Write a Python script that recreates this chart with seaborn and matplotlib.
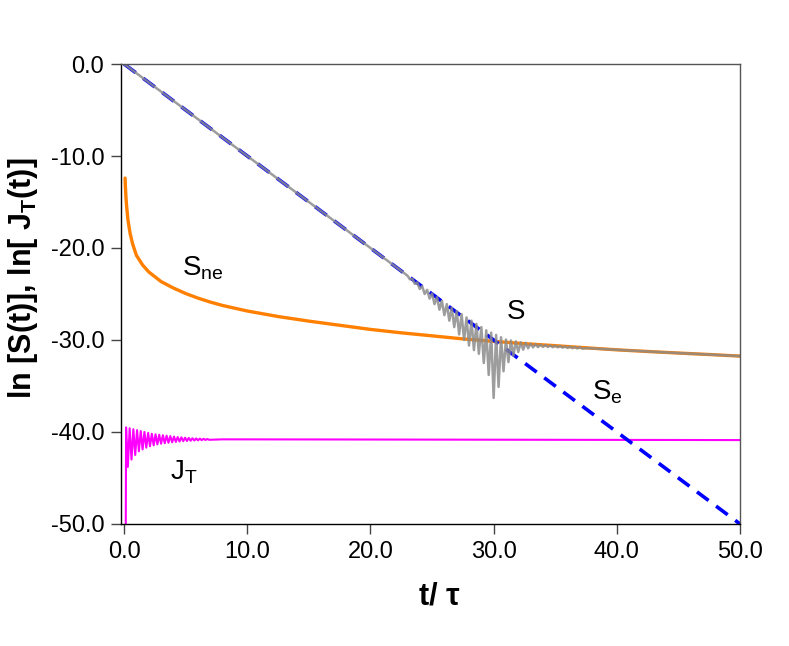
import numpy as np
import pandas as pd
import matplotlib
matplotlib.use("Agg")
import matplotlib.pyplot as plt
import seaborn as sns

# values
se_t = [0.0, 50.0]
se_val = [0.0, -50.0]

sne_t = [0.08, 0.1, 0.15, 0.2, 0.3, 0.4, 0.5, 0.7, 1.0, 1.5, 2.0, 3.0, 4.0, 5.0,
         6.0, 7.0, 8.0, 10.0, 12.5, 15.0, 17.5, 20.0, 22.5, 25.0, 27.5, 30.0,
         32.5, 35.0, 37.5, 40.0, 42.5, 45.0, 47.5, 50.0]
sne_val = [-12.4, -13.2, -14.5, -15.4, -16.8, -17.7, -18.5, -19.6, -20.8, -21.85,
           -22.6, -23.65, -24.35, -24.95, -25.45, -25.88, -26.25, -26.85, -27.45,
           -27.95, -28.4, -28.85, -29.22, -29.55, -29.88, -30.15, -30.4, -30.62,
           -30.85, -31.07, -31.25, -31.42, -31.58, -31.75]

# S: straight part, then oscillation peaks/troughs, then riding on S_ne
s_t = [0.0, 23.0,
       23.2, 23.4, 23.6, 23.8, 24.0, 24.2, 24.4, 24.6, 24.8, 25.0,
       25.2, 25.4, 25.6, 25.8, 26.0, 26.2, 26.4, 26.6, 26.8, 27.0,
       27.2, 27.4, 27.6, 27.8, 28.0, 28.2, 28.4, 28.6, 28.8, 29.0,
       29.2, 29.4, 29.6, 29.8, 30.0, 30.2, 30.4, 30.6, 30.8, 31.0,
       31.2, 31.4, 31.6, 31.8, 32.0, 32.2, 32.4, 32.6, 32.8, 33.0,
       33.2, 33.4, 33.6, 33.8, 34.0, 34.2, 34.4, 34.6, 34.8, 35.0,
       35.2, 35.4, 35.6, 35.8, 36.0, 36.2, 36.4, 36.6, 36.8, 37.0,
       37.2, 37.6, 40.0, 42.5, 45.0, 47.5, 50.0]
s_val = [0.0, -23.0,
         -23.4, -23.35, -23.9, -23.75, -24.45, -24.15, -25.0, -24.55, -25.5, -24.95,
         -26.1, -25.35, -26.7, -25.75, -27.3, -26.1, -27.9, -26.5, -28.6, -26.85,
         -29.4, -27.2, -30.0, -27.55, -30.6, -27.9, -31.1, -28.25, -31.5, -28.6,
         -32.5, -28.95, -33.8, -29.2, -36.3, -29.45, -35.1, -29.7, -33.4, -29.95,
         -32.4, -30.05, -31.7, -30.15, -31.3, -30.25, -31.05, -30.3, -30.9, -30.4,
         -30.8, -30.45, -30.78, -30.5, -30.75, -30.55, -30.76, -30.6, -30.78, -30.62,
         -30.8, -30.65, -30.83, -30.7, -30.86, -30.72, -30.89, -30.75, -30.92, -30.78,
         -30.94, -30.88, -31.07, -31.25, -31.42, -31.58, -31.75]

# J_T: drop from below the axis, damped ringing, then flat
jt_t = [0.13, 0.16, 0.30, 0.45, 0.60, 0.75, 0.90, 1.05, 1.20, 1.35, 1.50, 1.65,
        1.80, 1.95, 2.10, 2.25, 2.40, 2.55, 2.70, 2.85, 3.00, 3.15, 3.30, 3.45,
        3.60, 3.75, 3.90, 4.05, 4.20, 4.35, 4.50, 4.65, 4.80, 4.95, 5.10, 5.25,
        5.40, 5.55, 5.70, 5.85, 6.00, 6.15, 6.30, 6.45, 6.60, 6.75, 6.90, 8.0,
        20.0, 35.0, 50.0]
jt_val = [-52.0, -39.5, -43.8, -39.6, -43.0, -39.7, -42.5, -39.8, -42.1, -39.9,
          -41.9, -40.0, -41.7, -40.1, -41.55, -40.2, -41.45, -40.25, -41.35, -40.3,
          -41.28, -40.35, -41.22, -40.4, -41.17, -40.45, -41.12, -40.5, -41.08,
          -40.55, -41.04, -40.58, -41.0, -40.62, -40.98, -40.65, -40.95, -40.68,
          -40.93, -40.7, -40.91, -40.72, -40.89, -40.74, -40.87, -40.76, -40.85,
          -40.8, -40.82, -40.85, -40.88]

xticks = [0, 10, 20, 30, 40, 50]
xtick_labels = ["0.0", "10.0", "20.0", "30.0", "40.0", "50.0"]
yticks = [0, -10, -20, -30, -40, -50]
ytick_labels = ["0.0", "-10.0", "-20.0", "-30.0", "-40.0", "-50.0"]

sns.set_style("white")
plt.rcParams['font.family'] = ['Liberation Sans', 'DejaVu Sans']
plt.rcParams['axes.unicode_minus'] = False
plt.rcParams['mathtext.fontset'] = 'custom'
plt.rcParams['mathtext.rm'] = 'Liberation Sans'
plt.rcParams['mathtext.it'] = 'Liberation Sans'
plt.rcParams['mathtext.bf'] = 'Liberation Sans:bold'
plt.rcParams['mathtext.default'] = 'regular'
plt.rcParams['text.color'] = 'black'
plt.rcParams['axes.labelcolor'] = 'black'
plt.rcParams['xtick.color'] = 'black'
plt.rcParams['ytick.color'] = 'black'

fig = plt.figure(figsize=(7.89, 6.46), dpi=100)
ax = fig.add_axes([0.1534, 0.1889, 0.7845, 0.712])

sns.lineplot(x=sne_t, y=sne_val, ax=ax, color="#ff7f00", linewidth=2.4,
             sort=False, estimator=None)
sns.lineplot(x=jt_t, y=jt_val, ax=ax, color="#ff00ff", linewidth=1.5,
             sort=False, estimator=None)
sns.lineplot(x=se_t, y=se_val, ax=ax, color="#0000ff", linewidth=2.6,
             sort=False, estimator=None)
ax.lines[-1].set_dashes([4.0, 2.6])
sns.lineplot(x=s_t, y=s_val, ax=ax, color="#8c8c8c", linewidth=1.8, alpha=0.85,
             sort=False, estimator=None)

ax.set_xlim(-0.25, 50)
ax.set_ylim(-50, 0)
ax.set_xticks(xticks)
ax.set_xticklabels(xtick_labels)
ax.set_yticks(yticks)
ax.set_yticklabels(ytick_labels)
ax.tick_params(axis='both', direction='out', length=7, width=1, labelsize=17,
               pad=5, bottom=True, left=True)
ax.tick_params(axis='both', color="#444444")

for side in ['top', 'right']:
    ax.spines[side].set_color("#555555")
    ax.spines[side].set_linewidth(1.0)
for side in ['left', 'bottom']:
    ax.spines[side].set_color("black")
    ax.spines[side].set_linewidth(1.0)

ax.set_xlabel("t/ τ", fontsize=22, fontweight='bold')
ax.set_ylabel(r"ln [S(t)], ln[ J$\mathbf{_T}$(t)]", fontsize=22,
              fontweight='bold')
ax.xaxis.set_label_coords(0.514, -0.125)
ax.yaxis.set_label_coords(-0.131, 0.535)

ax.text(31.05, -27.7, "S", fontsize=20, ha='left', va='baseline')
ax.text(4.7, -23.0, "S$_{ne}$", fontsize=20, ha='left', va='baseline')
ax.text(38.0, -36.5, "S$_{e}$", fontsize=20, ha='left', va='baseline')
ax.text(3.75, -45.2, "J$_{T}$", fontsize=20, ha='left', va='baseline')

fig.savefig("out.png", dpi=100)
